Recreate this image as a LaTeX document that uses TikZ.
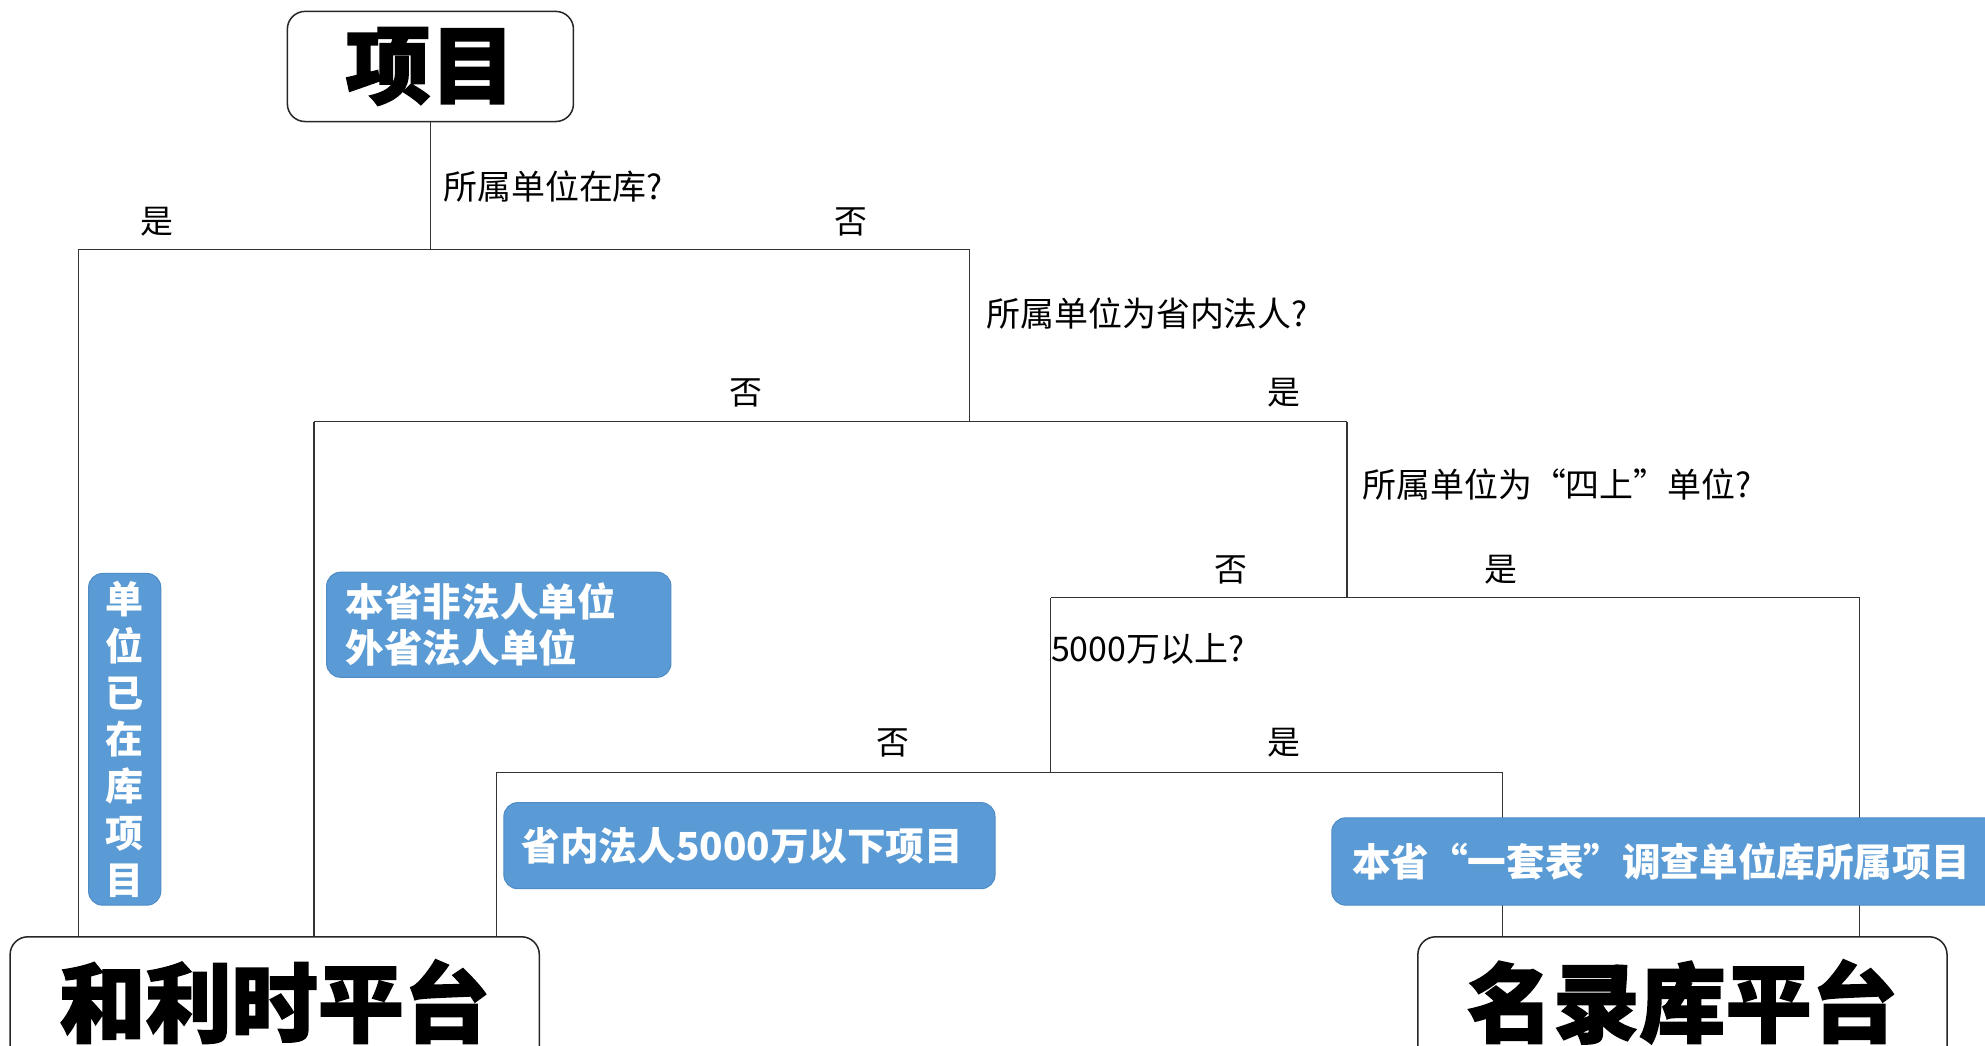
\documentclass[tikz,border=0pt]{standalone}
\usepackage{fontspec}
\setmainfont{Noto Sans CJK SC}
\newfontfamily\heavyfont{Noto Sans CJK SC}[BoldFeatures={FakeBold=2}]
\definecolor{boxblue}{HTML}{5B9BD5}
\definecolor{boxedge}{HTML}{4F8CC6}
\begin{document}
\begin{tikzpicture}[x=1pt,y=-1pt,
  bigbox/.style={draw=black!85, line width=1.2pt, rounded corners=14pt, fill=white,
    minimum width=418pt, minimum height=120pt, inner sep=0pt,
    font=\heavyfont\bfseries\fontsize{68}{72}\selectfont},
  topbox/.style={draw=black!85, line width=1.2pt, rounded corners=14pt, fill=white,
    minimum width=226pt, minimum height=87pt, inner sep=0pt,
    font=\heavyfont\bfseries\fontsize{67}{72}\selectfont},
  bluebox/.style={fill=boxblue, draw=boxedge, line width=0.8pt, rounded corners=11pt,
    text=white, font=\bfseries\fontsize{30.5}{36}\selectfont, inner ysep=0pt},
  ask/.style={anchor=west, inner sep=0pt, font=\fontsize{26.8}{30}\selectfont},
  yn/.style={inner sep=0pt, font=\fontsize{26}{30}\selectfont},
  link/.style={line width=1.1pt, draw=black!80}]
\useasboundingbox (0,0) rectangle (1568,825.5);
\clip (0,0) rectangle (1568,825.5);
% main boxes
\node[topbox] (proj) at (340,52.5) {项目};
\node[bigbox] (hls) at (217,800) {\raisebox{24pt}{和利时平台}};
\node[bigbox] (mlk) at (1329,800) {\raisebox{24pt}{名录库平台}};
% junction coordinates
\coordinate (j1) at (340,197);
\coordinate (l1) at (62,197);
\coordinate (r1) at (766,197);
\coordinate (l2) at (248,333);
\coordinate (r2) at (1064,333);
\coordinate (l3) at (830,472);
\coordinate (r3) at (1469,472);
\coordinate (l4) at (392,610);
\coordinate (r4) at (1187,610);
% connectors
\draw[link] (proj.south) -- (j1);
\draw[link] (l1) -- (r1);
\draw[link] (l1) -- (l1 |- hls.north);
\draw[link] (r1) -- (r1 |- l2);
\draw[link] (l2) -- (r2);
\draw[link] (l2) -- (l2 |- hls.north);
\draw[link] (r2) -- (r2 |- l3);
\draw[link] (l3) -- (r3);
\draw[link] (r3) -- (r3 |- mlk.north);
\draw[link] (l3) -- (l3 |- l4);
\draw[link] (l4) -- (r4);
\draw[link] (l4) -- (l4 |- hls.north);
\draw[link] (r4) -- (r4 |- mlk.north);
% questions
\node[ask] (q1) at (350,147) {所属单位在库?};
\node[ask] (q2) at (779,248) {所属单位为省内法人?};
\node[ask] (q3) at (1076,383) {所属单位为“四上”单位?};
\node[ask] (q4) at (830,513) {5000万以上?};
% yes / no
\node[yn] (y1) at (124,175) {是};
\node[yn] (n1) at (672,175) {否};
\node[yn] (n2) at (589,310) {否};
\node[yn] (y2) at (1014,310) {是};
\node[yn] (n3) at (972,450) {否};
\node[yn] (y3) at (1186,450) {是};
\node[yn] (n4) at (705,587) {否};
\node[yn] (y4) at (1014,587) {是};
% blue result boxes
\node[bluebox, minimum width=57pt, minimum height=262pt, inner xsep=0pt, align=center,
  font=\bfseries\fontsize{30}{37}\selectfont] (b1) at (98.5,584) {单\\位\\已\\在\\库\\项\\目};
\node[bluebox, minimum width=272pt, minimum height=83pt, inner xsep=15pt,
  text width=242pt, align=left] (b2) at (394,493.5) {本省非法人单位\\外省法人单位};
\node[bluebox, minimum width=388pt, minimum height=68pt, inner xsep=14pt,
  text width=360pt, align=left] (b3) at (592,668) {省内法人5000万以下项目};
\node[bluebox, minimum width=528pt, minimum height=69pt, inner xsep=16pt,
  text width=496pt, align=left] (b4) at (1316,680.5) {本省“一套表”调查单位库所属项目};
\end{tikzpicture}
\end{document}
